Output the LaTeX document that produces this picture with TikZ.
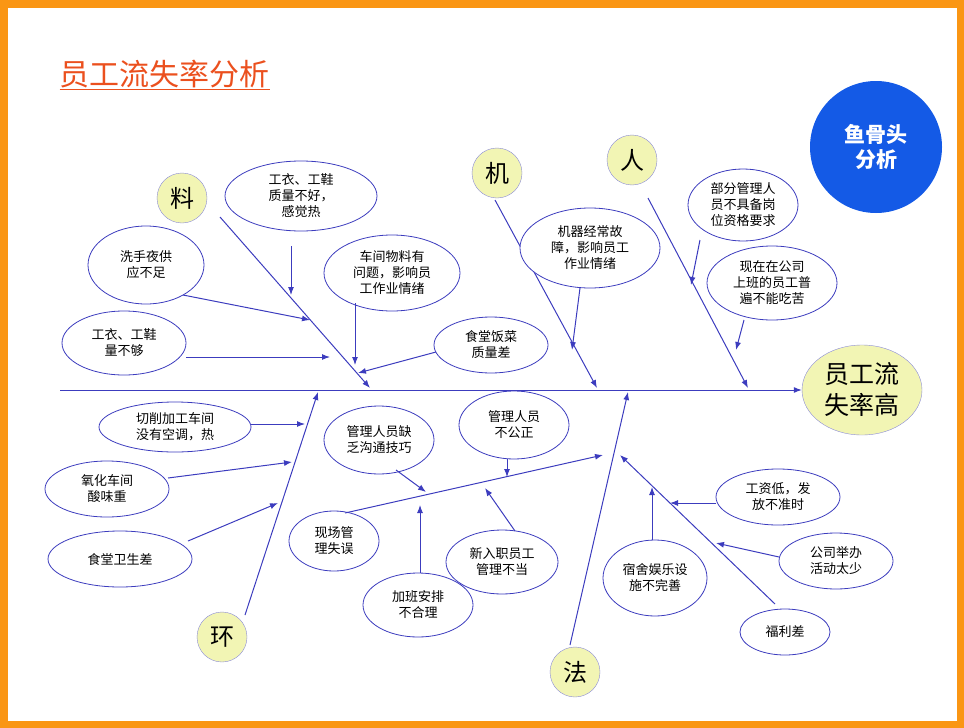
\documentclass[tikz,border=0pt]{standalone}
\usepackage{fontspec}
\setmainfont{Noto Sans CJK SC}
\usetikzlibrary{shapes.geometric,arrows.meta}
\definecolor{bone}{RGB}{60,60,190}
\definecolor{frame}{RGB}{250,150,20}
\definecolor{cat}{RGB}{242,245,180}
\definecolor{titlered}{RGB}{235,80,30}
\definecolor{ball}{RGB}{20,90,230}
\tikzset{
  cause/.style={ellipse,draw=bone,thick,fill=white,align=center,font=\fontsize{13}{16}\selectfont,inner sep=0pt},
  catnode/.style={circle,draw=bone!60,fill=cat,minimum size=50pt,inner sep=0pt,font=\fontsize{24}{26}\selectfont},
  arr/.style={draw=bone,line width=1pt,-{Latex[length=8pt,width=6pt]}},
}
\begin{document}
\begin{tikzpicture}[x=1pt,y=-1pt]
\useasboundingbox (0,0) rectangle (964,728);
\draw[frame,line width=7pt] (4,4) rectangle (960,724);
\node[font=\fontsize{30}{32}\selectfont,text=titlered,anchor=west] (title) at (56,75) {\underline{员工流失率分析}};
\node[circle,fill=ball,minimum size=132pt,text=white,align=center,font=\bfseries\fontsize{21}{25}\selectfont] (fish) at (876,147) {鱼骨头\\分析};
% spine and head
\node[ellipse,draw=bone!60,fill=cat,minimum width=120pt,minimum height=90pt,inner sep=0pt,align=center,font=\fontsize{25}{31}\selectfont] (head) at (862,390) {员工流\\失率高};
\coordinate (tail) at (60,390);
\draw[arr] (tail) -- (head.west);
% main bones
\node[catnode] (liao) at (182,198) {料};
\node[catnode] (ji) at (497,173) {机};
\node[catnode] (ren) at (632,160) {人};
\node[catnode] (huan) at (222,637) {环};
\node[catnode] (fa) at (575,672) {法};
\coordinate (pliao) at (370,388);
\coordinate (pji) at (597,388);
\coordinate (pren) at (748,388);
\coordinate (phuan) at (318,392);
\coordinate (pfa) at (628,392);
\draw[arr] (220,217) -- (pliao);
\draw[arr] (495,200) -- (pji);
\draw[arr] (648,198) -- (pren);
\draw[arr] (245,615) -- (phuan);
\draw[arr] (570,645) -- (pfa);
% 料
\node[cause,minimum width=152pt,minimum height=70pt] (l1) at (301,196) {工衣、工鞋\\质量不好，\\感觉热};
\node[cause,minimum width=116pt,minimum height=78pt] (l2) at (146,265) {洗手夜供\\应不足};
\node[cause,minimum width=136pt,minimum height=76pt] (l3) at (392,273) {车间物料有\\问题，影响员\\工作业情绪};
\node[cause,minimum width=124pt,minimum height=64pt] (l4) at (124,343) {工衣、工鞋\\量不够};
\node[cause,minimum width=114pt,minimum height=56pt] (l5) at (491,345) {食堂饭菜\\质量差};
\draw[arr] (291,246) -- (291,295);
\draw[arr] (183,295) -- (310,320);
\draw[arr] (355,303) -- (355,365);
\draw[arr] (186,357) -- (330,357);
\draw[arr] (436,352) -- (358,373);
% 机
\node[cause,minimum width=140pt,minimum height=80pt] (j1) at (590,248) {机器经常故\\障，影响员工\\作业情绪};
\draw[arr] (580,288) -- (572,350);
% 人
\node[cause,minimum width=110pt,minimum height=72pt] (r1) at (743,205) {部分管理人\\员不具备岗\\位资格要求};
\node[cause,minimum width=130pt,minimum height=74pt] (r2) at (772,283) {现在在公司\\上班的员工普\\遍不能吃苦};
\draw[arr] (700,240) -- (691,285);
\draw[arr] (744,320) -- (736,350);
% 环
\node[cause,minimum width=152pt,minimum height=50pt] (h1) at (175,427) {切削加工车间\\没有空调，热};
\node[cause,minimum width=124pt,minimum height=56pt] (h2) at (107,489) {氧化车间\\酸味重};
\node[cause,minimum width=144pt,minimum height=56pt] (h3) at (120,559) {食堂卫生差};
\draw[arr] (251,424) -- (305,424);
\draw[arr] (168,478) -- (292,462);
\draw[arr] (188,541) -- (278,503);
% 法
\node[cause,minimum width=110pt,minimum height=68pt] (f1) at (379,440) {管理人员缺\\乏沟通技巧};
\node[cause,minimum width=110pt,minimum height=68pt] (f2) at (514,425) {管理人员\\不公正};
\node[cause,minimum width=90pt,minimum height=60pt] (f3) at (334,541) {现场管\\理失误};
\node[cause,minimum width=110pt,minimum height=64pt] (f4) at (418,605) {加班安排\\不合理};
\node[cause,minimum width=112pt,minimum height=64pt] (f5) at (502,562) {新入职员工\\管理不当};
\coordinate (sfa) at (603,455);
\draw[arr] (345,513) -- (sfa);
\draw[arr] (396,470) -- (426,492);
\draw[arr] (507,459) -- (507,477);
\draw[arr] (420,573) -- (420,505);
\draw[arr] (515,531) -- (485,488);
% 右下
\node[cause,minimum width=104pt,minimum height=76pt] (w1) at (655,578) {宿舍娱乐设\\施不完善};
\node[cause,minimum width=124pt,minimum height=56pt] (w2) at (778,497) {工资低，发\\放不准时};
\node[cause,minimum width=114pt,minimum height=56pt] (w3) at (836,561) {公司举办\\活动太少};
\node[cause,minimum width=90pt,minimum height=46pt] (w4) at (785,632) {福利差};
\coordinate (sw) at (620,455);
\draw[arr] (775,604) -- (sw);
\draw[arr] (652,540) -- (652,487);
\draw[arr] (716,503) -- (670,503);
\draw[arr] (779,557) -- (716,543);
\end{tikzpicture}
\end{document}
